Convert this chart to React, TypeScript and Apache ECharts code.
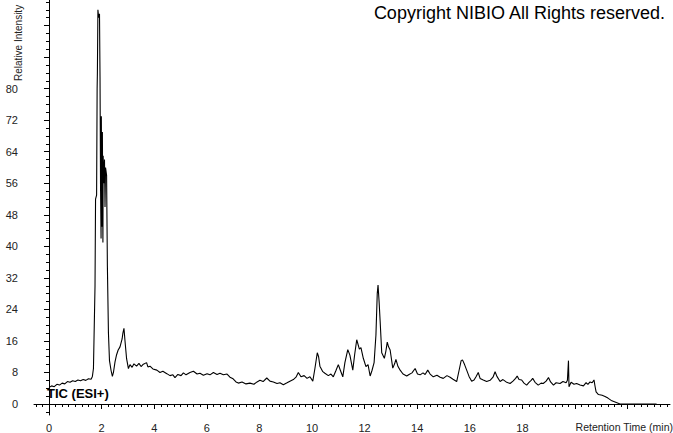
import React, { useEffect, useRef } from "react";
import * as echarts from "echarts";

const retentionTimes = [
  0.0, 0.1, 0.2, 0.3, 0.4, 0.5, 0.6, 0.7, 0.8, 0.9, 1.0, 1.1, 1.2, 1.3, 1.4, 1.5, 1.6, 1.65,
  1.69, 1.75, 1.77, 1.81, 1.83, 1.84, 1.86, 1.89, 1.92, 1.94, 1.96, 1.98, 1.99, 2.01, 2.03, 2.05,
  2.06, 2.08, 2.11, 2.13, 2.15, 2.19, 2.22, 2.26, 2.3, 2.36, 2.41, 2.45,
  2.51, 2.57, 2.63, 2.7, 2.78, 2.81, 2.85, 2.89, 2.95, 3.02, 3.08, 3.16, 3.23, 3.33, 3.42, 3.5,
  3.57, 3.71, 3.76, 3.84, 3.95, 4.1, 4.22, 4.33, 4.48, 4.6, 4.71, 4.79, 4.9, 5.02, 5.11, 5.21,
  5.36, 5.49, 5.63, 5.74, 5.87, 6.01, 6.12, 6.25, 6.39, 6.5, 6.63, 6.77, 6.88, 7.0, 7.11, 7.2,
  7.34, 7.49, 7.64, 7.79, 7.91, 8.02, 8.14, 8.28, 8.4, 8.53, 8.67, 8.78, 8.91, 9.05, 9.16, 9.29,
  9.39, 9.48, 9.58, 9.7, 9.81, 9.92, 10.03, 10.11, 10.2, 10.25, 10.3, 10.41, 10.49, 10.62, 10.72,
  10.81, 10.91, 11.0, 11.08, 11.17, 11.25, 11.36, 11.44, 11.55, 11.62, 11.7, 11.8, 11.86, 11.95,
  12.05, 12.13, 12.21, 12.28, 12.36, 12.43, 12.48, 12.51, 12.55, 12.59, 12.65, 12.7, 12.75, 12.81,
  12.86, 12.91, 12.97, 13.07, 13.14, 13.19, 13.27, 13.35, 13.46, 13.6, 13.69, 13.8, 13.92, 14.01,
  14.11, 14.22, 14.3, 14.4, 14.49, 14.61, 14.75, 14.87, 14.99, 15.13, 15.25, 15.36, 15.5, 15.59,
  15.67, 15.72, 15.8, 15.88, 15.97, 16.07, 16.16, 16.24, 16.32, 16.39, 16.51, 16.64, 16.77, 16.88,
  16.96, 17.03, 17.15, 17.26, 17.38, 17.53, 17.64, 17.74, 17.8, 17.87, 17.97, 18.06, 18.16, 18.25,
  18.33, 18.39, 18.48, 18.6, 18.71, 18.79, 18.9, 18.99, 19.07, 19.18, 19.28, 19.43, 19.54, 19.66,
  19.71, 19.75, 19.77, 19.85, 19.96, 20.06, 20.19, 20.32, 20.42, 20.49, 20.57, 20.65, 20.72, 20.76,
  20.8, 20.89, 21.03, 21.14, 21.25, 21.4, 21.52, 21.71, 23.1,
];

const intensities = [
  4.2, 4.6, 4.4, 5.0, 4.8, 5.3, 5.1, 5.7, 5.5, 5.9, 5.7, 6.1, 5.9, 6.2, 6.0, 6.4, 6.3, 7.0,
  9, 30, 52, 53, 80, 84, 100, 98, 99, 83, 55, 42, 73, 45, 69, 41,
  63, 56, 62, 50, 60, 58, 35, 18, 11, 8.5, 7.0, 8.0,
  10.7, 12.5, 13.7, 14.5, 16.5, 18.0, 19.2, 16.0, 11.5, 9.0, 10.0, 9.3, 10.2, 9.6, 10.3, 9.5,
  10.0, 10.5, 9.4, 9.6, 8.9, 8.6, 8.0, 8.3, 7.7, 7.2, 7.4, 6.7, 7.5, 7.2, 7.9, 7.4,
  8.0, 8.3, 7.6, 7.8, 7.3, 7.7, 7.4, 8.0, 7.5, 7.8, 7.4, 7.6, 6.8, 6.4, 5.6, 5.3,
  5.6, 5.1, 5.3, 5.0, 5.6, 6.0, 5.7, 6.6, 5.8, 5.6, 5.2, 5.4, 4.9, 5.4, 5.8, 6.2,
  6.8, 8.0, 6.9, 7.2, 6.5, 6.9, 5.8, 9.0, 13.0, 12.0, 9.6, 8.2, 7.8, 7.2, 7.6,
  6.9, 8.5, 10.0, 8.5, 6.9, 10.5, 13.8, 12.4, 8.6, 12.5, 16.3, 13.9, 14.3, 11.6,
  9.5, 10.0, 7.1, 8.5, 10.5, 17.5, 28, 30.2, 26, 21, 13, 12.3, 11.6, 13.5,
  15.7, 14.5, 13.7, 9.1, 10.2, 11.3, 9.5, 8.6, 7.6, 7.1, 7.5, 7.9, 9.0, 7.6,
  7.4, 7.9, 7.5, 8.6, 7.6, 6.9, 7.3, 6.8, 6.5, 7.2, 6.8, 6.3, 5.7, 8.5,
  11.0, 11.2, 10.0, 8.6, 7.0, 5.8, 6.1, 7.0, 8.0, 6.5, 6.1, 5.7, 6.0, 6.8,
  8.2, 7.0, 5.7, 6.2, 5.6, 5.2, 5.8, 6.5, 7.1, 6.2, 6.1, 5.3, 4.8, 5.5,
  6.0, 6.5, 5.5, 4.8, 5.3, 5.2, 5.8, 6.7, 5.6, 4.8, 5.4, 5.2, 5.7, 5.4,
  6.0, 11.0, 4.4, 5.5, 5.0, 5.2, 4.8, 4.6, 5.4, 5.0, 5.6, 5.4, 6.1, 4.5,
  3.1, 2.4, 2.2, 1.9, 1.5, 0.8, 0.5, 0.0, 0.0,
];

const yLabelValues = [0, 8, 16, 24, 32, 40, 48, 56, 64, 72, 80];
const yMajorTicks = [0, 8, 16, 24, 32, 40, 48, 56, 64, 72, 80, 88, 96];
const xLabelValues = [0, 2, 4, 6, 8, 10, 12, 14, 16, 18];
const xMajorTicks = [0, 2, 4, 6, 8, 10, 12, 14, 16, 18, 20, 22];

const X_MIN = -0.57;
const X_MAX = 23.61;
const Y_MIN = -2.79;
const Y_MAX = 102.5;

const yMinorTicks: number[] = [];
for (let v = -2; v <= 102; v += 2) yMinorTicks.push(v);
const xMinorTicks: number[] = [];
for (let i = -2; i <= 94; i++) xMinorTicks.push(i * 0.25);

const FONT = '"Liberation Sans", Arial, sans-serif';
const AXIS_COLOR = "#000";

export default function App() {
  const ref = useRef<HTMLDivElement>(null);
  useEffect(() => {
    if (!ref.current) return;
    const chart = echarts.init(ref.current, null, { renderer: "svg" });
    const data = retentionTimes.map((t, i) => [t, intensities[i]]);
    chart.setOption({
      animation: false,
      backgroundColor: "#fff",
      grid: { left: 34, top: 0, width: 636, height: 415, containLabel: false },
      xAxis: [
        {
          type: "value",
          position: "bottom",
          min: X_MIN,
          max: X_MAX,
          axisLine: { show: true, lineStyle: { color: AXIS_COLOR, width: 1 } },
          axisTick: {
            show: true,
            length: 5,
            customValues: xMajorTicks,
            lineStyle: { color: AXIS_COLOR },
          },
          axisLabel: {
            show: true,
            customValues: xLabelValues,
            margin: 7,
            color: "#222",
            fontSize: 11,
            fontFamily: FONT,
          },
          splitLine: { show: false },
        },
        {
          type: "value",
          position: "bottom",
          min: X_MIN,
          max: X_MAX,
          axisLine: { show: false },
          axisTick: {
            show: true,
            length: 3,
            customValues: xMinorTicks,
            lineStyle: { color: AXIS_COLOR },
          },
          axisLabel: { show: false },
          splitLine: { show: false },
        },
      ],
      yAxis: [
        {
          type: "value",
          position: "left",
          min: Y_MIN,
          max: Y_MAX,
          axisLine: { show: true, lineStyle: { color: AXIS_COLOR, width: 1 } },
          axisTick: {
            show: true,
            length: 5,
            customValues: yMajorTicks,
            lineStyle: { color: AXIS_COLOR },
          },
          axisLabel: {
            show: true,
            customValues: yLabelValues,
            margin: 16,
            color: "#222",
            fontSize: 11,
            fontFamily: FONT,
          },
          splitLine: { show: false },
        },
        {
          type: "value",
          position: "left",
          offset: 0,
          min: Y_MIN,
          max: Y_MAX,
          axisLine: { show: false },
          axisTick: {
            show: true,
            length: 3,
            customValues: yMinorTicks,
            lineStyle: { color: AXIS_COLOR },
          },
          axisLabel: { show: false },
          splitLine: { show: false },
        },
      ],
      series: [
        {
          type: "line",
          name: "TIC (ESI+)",
          data,
          xAxisIndex: 0,
          yAxisIndex: 0,
          showSymbol: false,
          symbol: "none",
          lineStyle: { color: "#000", width: 1.1 },
          silent: true,
        },
      ],
      graphic: [
        {
          type: "text",
          x: 665,
          y: 4,
          style: {
            text: "Copyright NIBIO All Rights reserved.",
            fill: "#000",
            fontSize: 18,
            fontFamily: FONT,
            textAlign: "right",
            textVerticalAlign: "top",
          },
        },
        {
          type: "text",
          x: 47,
          y: 393,
          style: {
            text: "TIC (ESI+)",
            fill: "#000",
            fontSize: 13,
            fontWeight: "bold",
            fontFamily: FONT,
            textAlign: "left",
            textVerticalAlign: "middle",
          },
        },
        {
          type: "text",
          x: 673,
          y: 427,
          style: {
            text: "Retention Time (min)",
            fill: "#222",
            fontSize: 10.5,
            fontFamily: FONT,
            textAlign: "right",
            textVerticalAlign: "middle",
          },
        },
        {
          type: "text",
          x: 18,
          y: 81,
          rotation: Math.PI / 2,
          style: {
            text: "Relative Intensity",
            fill: "#222",
            fontSize: 10,
            fontFamily: FONT,
            textAlign: "left",
            textVerticalAlign: "middle",
          },
        },
      ],
    });
    return () => chart.dispose();
  }, []);
  return (
    <div
      ref={ref}
      style={{ position: "fixed", left: 0, top: 0, width: 673, height: 433, background: "#fff" }}
    />
  );
}
